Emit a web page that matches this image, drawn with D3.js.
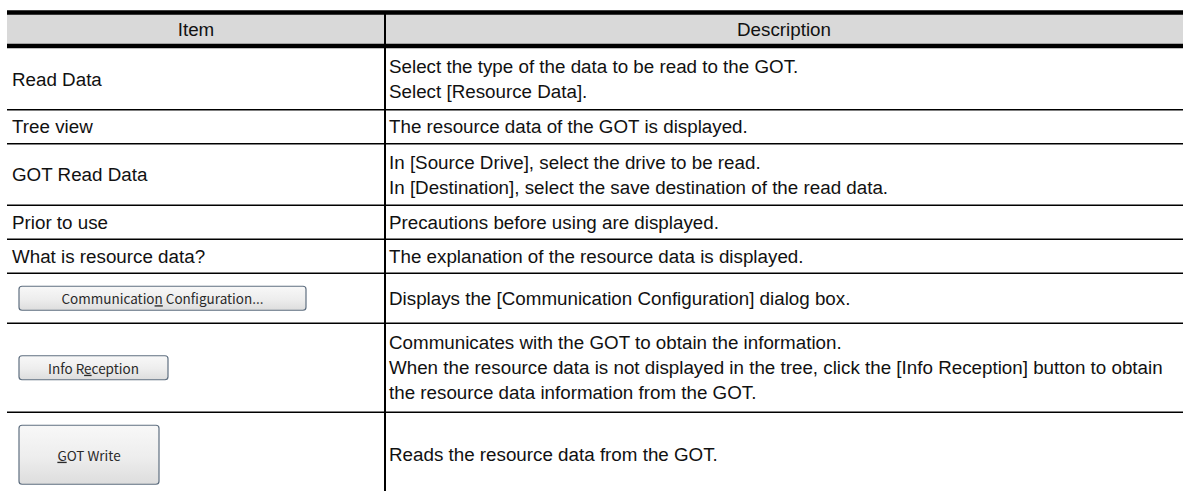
<!DOCTYPE html>
<html>
<head>
<meta charset="utf-8">
<script src="https://cdn.jsdelivr.net/npm/d3@7"></script>
<style>
  html, body { margin: 0; padding: 0; background: #fff; overflow: hidden; }
  svg { display: block; }
</style>
</head>
<body>
<svg id="chart" width="1184" height="491"></svg>
<script>
// ---- data ----
const headers = ["Item", "Description"];
const itemLabels = [
  "Read Data",
  "Tree view",
  "GOT Read Data",
  "Prior to use",
  "What is resource data?",
  "Communication Configuration...",
  "Info Reception",
  "GOT Write"
];
const itemKinds = ["text", "text", "text", "text", "text", "button", "button", "button"];
const mnemonicIndex = [-1, -1, -1, -1, -1, 12, 6, 0];
const buttonSizes = ["", "", "", "", "", "wide", "small", "large"];
const descriptions = [
  ["Select the type of the data to be read to the GOT.", "Select [Resource Data]."],
  ["The resource data of the GOT is displayed."],
  ["In [Source Drive], select the drive to be read.", "In [Destination], select the save destination of the read data."],
  ["Precautions before using are displayed."],
  ["The explanation of the resource data is displayed."],
  ["Displays the [Communication Configuration] dialog box."],
  ["Communicates with the GOT to obtain the information.",
   "When the resource data is not displayed in the tree, click the [Info Reception] button to obtain",
   "the resource data information from the GOT."],
  ["Reads the resource data from the GOT."]
];

// ---- layout ----
const W = 1184, H = 491;
const left = 7, right = 1183, divX = 385;
const topY = 12.5, headBottom = 46;
const thick = 4.5, thin = 1.6;
const lineStep = 27.5, basePad = 6.5, textLead = 25;
const btnDims = { wide: [287, 24], small: [149, 24], large: [140, 59] };
const btnPad = 26;
const textX0 = divX + 4;

const svg = d3.select("#chart");
const x = d3.scaleOrdinal().domain(headers).range([left, divX]);
const colEnd = d3.scaleOrdinal().domain(headers).range([divX, right]);

// row heights
const rowH = descriptions.map((d, i) => {
  let h = basePad + lineStep * d.length;
  if (itemKinds[i] === "button") h = Math.max(h, btnDims[buttonSizes[i]][1] + btnPad);
  return h;
});
const rowTop = [];
let acc = headBottom + thick / 2;
rowH.forEach(h => { rowTop.push(acc); acc += h; });

// header background
svg.append("rect").attr("x", left).attr("y", topY).attr("width", right - left)
  .attr("height", headBottom - topY).attr("fill", "#d9d9d9");

const font = "'Liberation Sans', Arial, sans-serif";
const fs = 18.8;

svg.selectAll("text.head").data(headers).join("text")
  .attr("class", "head")
  .attr("x", d => (x(d) + colEnd(d)) / 2)
  .attr("y", (topY + headBottom) / 2 + 0.5)
  .attr("text-anchor", "middle").attr("dominant-baseline", "central")
  .attr("font-family", font).attr("font-size", fs).attr("fill", "#111")
  .text(d => d);

// gradient for buttons
const defs = svg.append("defs");
const grad = defs.append("linearGradient").attr("id", "btn").attr("x1", 0).attr("y1", 0).attr("x2", 0).attr("y2", 1);
grad.append("stop").attr("offset", "0%").attr("stop-color", "#f8f8f8");
grad.append("stop").attr("offset", "55%").attr("stop-color", "#ededed");
grad.append("stop").attr("offset", "100%").attr("stop-color", "#dddddd");

const rows = svg.selectAll("g.row").data(itemLabels).join("g").attr("class", "row");

rows.each(function(label, i) {
  const g = d3.select(this);
  const y0 = rowTop[i], h = rowH[i], cy = y0 + h / 2;
  if (itemKinds[i] === "text") {
    g.append("text").attr("x", 12).attr("y", cy)
      .attr("dominant-baseline", "central")
      .attr("font-family", font).attr("font-size", fs).attr("fill", "#111")
      .text(label);
  } else {
    const [bw, bh] = btnDims[buttonSizes[i]];
    const bx = 19, by = cy - bh / 2;
    g.append("rect").attr("x", bx).attr("y", by).attr("width", bw).attr("height", bh)
      .attr("rx", 3).attr("fill", "url(#btn)").attr("stroke", "#5f6f80").attr("stroke-width", 1.2);
    const t = g.append("text").attr("x", bx + bw / 2).attr("y", cy)
      .attr("text-anchor", "middle").attr("dominant-baseline", "central")
      .attr("font-family", "'Noto Sans CJK JP', 'DejaVu Sans', sans-serif")
      .attr("font-size", 13.5).attr("fill", "#2a2a2a");
    const m = mnemonicIndex[i];
    t.append("tspan").text(label.slice(0, m));
    t.append("tspan").attr("text-decoration", "underline").text(label.charAt(m));
    t.append("tspan").text(label.slice(m + 1));
  }
  const desc = descriptions[i];
  const start = cy - (desc.length - 1) * textLead / 2;
  g.selectAll("text.desc").data(desc).join("text").attr("class", "desc")
    .attr("x", textX0).attr("y", (d, k) => start + k * textLead)
    .attr("dominant-baseline", "central")
    .attr("font-family", font).attr("font-size", fs).attr("fill", "#111")
    .text(d => d);
});

// lines
svg.append("line").attr("x1", left).attr("x2", right).attr("y1", topY).attr("y2", topY)
  .attr("stroke", "#000").attr("stroke-width", thick);
svg.append("line").attr("x1", left).attr("x2", right).attr("y1", headBottom).attr("y2", headBottom)
  .attr("stroke", "#000").attr("stroke-width", thick);
svg.selectAll("line.sep").data(rowTop.slice(1).concat([acc])).join("line").attr("class", "sep")
  .attr("x1", left).attr("x2", right).attr("y1", d => d).attr("y2", d => d)
  .attr("stroke", "#000").attr("stroke-width", thin);
svg.append("line").attr("x1", divX).attr("x2", divX).attr("y1", topY).attr("y2", H + 10)
  .attr("stroke", "#000").attr("stroke-width", 2);
</script>
</body>
</html>
